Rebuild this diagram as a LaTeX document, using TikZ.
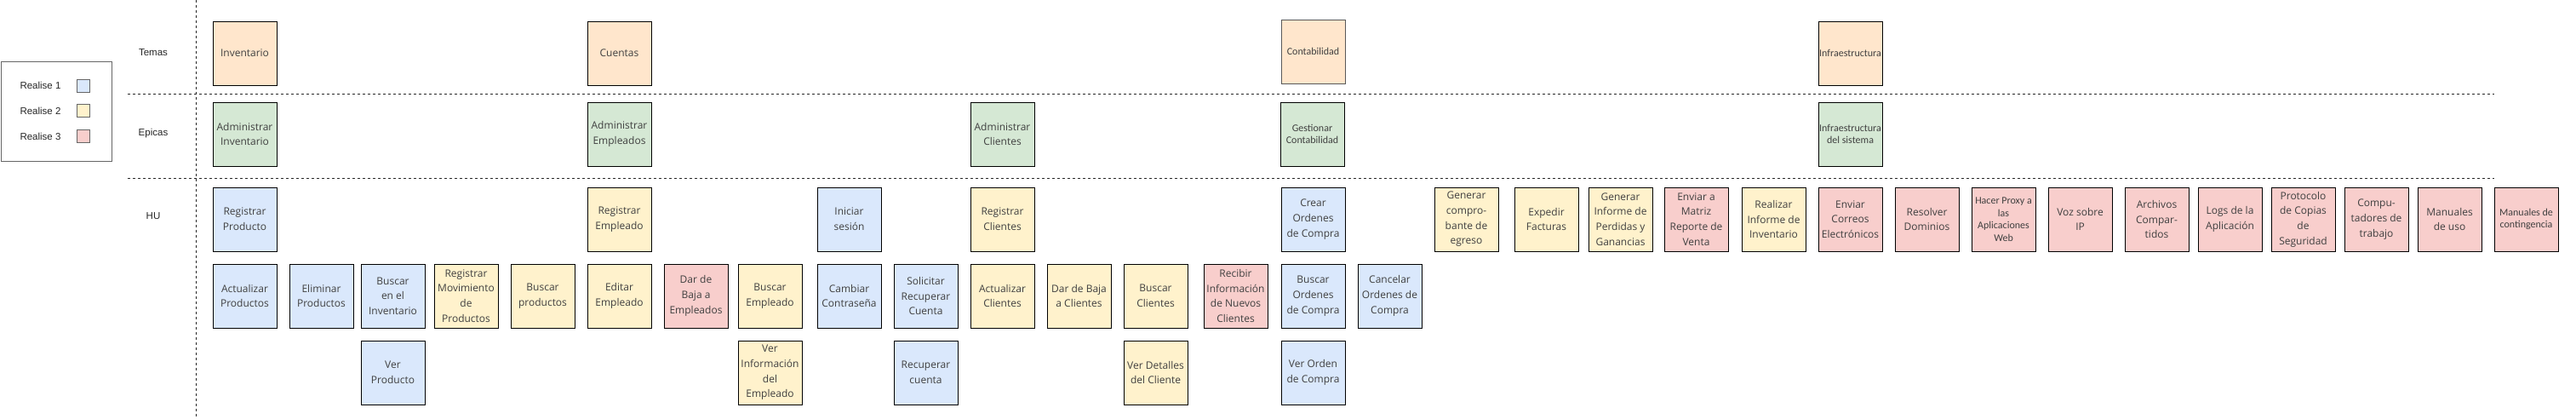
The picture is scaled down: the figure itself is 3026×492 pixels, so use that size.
\documentclass[tikz,border=0pt]{standalone}
\usepackage{fontspec}
\setmainfont{Open Sans}
\newfontfamily\calfont{Carlito}
\newfontfamily\helvfont{Liberation Sans}
\usepackage{xcolor}
\usepackage{tikz}
\usetikzlibrary{positioning}
\definecolor{cBlue}{HTML}{DAE8FC}
\definecolor{cYellow}{HTML}{FFF2CC}
\definecolor{cRed}{HTML}{F8CECC}
\definecolor{cGreen}{HTML}{D5E8D4}
\definecolor{cOrange}{HTML}{FFE6CC}
\definecolor{cText}{HTML}{404040}
\newcommand{\cardsize}{\fontsize{12}{17.7}\selectfont}
\newcommand{\smallsize}{\calfont\fontsize{12}{14.5}\selectfont}
\tikzset{
  card/.style={draw=black, line width=0.9pt, minimum width=75pt, minimum height=75pt,
    inner sep=0pt, align=center, text=cText, font=\cardsize},
  smallcard/.style={card, font=\smallsize},
  lane/.style={draw=black!85, line width=0.9pt, dash pattern=on 3pt off 3pt},
  rowlabel/.style={font=\helvfont\fontsize{11.5}{14}\selectfont, text=black!85},
  swatch/.style={draw=black!60, line width=0.9pt, minimum size=15pt, inner sep=0pt}
}

\begin{document}
\begin{tikzpicture}[x=1pt,y=-1pt]
  \useasboundingbox (0,0) rectangle (3026,492);
  % lanes
  \draw[lane] (230,0) -- (230,490);
  \draw[lane] (150,110) -- (2930,110);
  \draw[lane] (150,209) -- (2930,209);
  \node[rowlabel] (temas) at (180,62) {Temas};
  \node[rowlabel] (epicas) at (180,157) {Epicas};
  \node[rowlabel] (hu) at (180,254) {HU};
  % legend
  \node[draw=black!60, line width=0.9pt, minimum width=130pt, minimum height=117pt,
    inner sep=0pt, anchor=north west] (legend) at (0.5,72) {};
  \foreach \y/\c [count=\i] in {100.5/cBlue,130/cYellow,160/cRed} {
    \node[rowlabel, anchor=west] (rl\i) at (20,\y) {Realise \i};
    \node[swatch, fill=\c] (sw\i) at (98,\y) {};
  }
  % temas
  \node[card, fill=cOrange] (inventario) at (287.5,62.5) {Inventario};
  \node[card, fill=cOrange] (cuentas) at (727.5,62.5) {Cuentas};
  \node[smallcard, fill=cOrange, draw=black!65] (contabilidad) at (1542.5,60.5) {Contabilidad};
  \node[smallcard, fill=cOrange] (infra) at (2173.5,62.5) {Infraestructura};
  % epicas
  \node[card, fill=cGreen] (ep-inv) at (287.5,157.5) {Administrar\\Inventario};
  \node[card, fill=cGreen] (ep-emp) at (727.5,157.5) {Administrar\\Empleados};
  \node[card, fill=cGreen] (ep-cli) at (1177.5,157.5) {Administrar\\Clientes};
  \node[smallcard, fill=cGreen] (ep-cont) at (1541.5,157.5) {Gestionar\\Contabilidad};
  \node[smallcard, fill=cGreen] (ep-infra) at (2173.5,157.5) {Infraestructura\\del sistema};
  % historias de usuario
  \foreach \x/\c/\t [count=\i] in {
     250/cBlue/{Registrar\\Producto},
     690/cYellow/{Registrar\\Empleado},
     960/cBlue/{Iniciar\\sesión},
     1140/cYellow/{Registrar\\Clientes},
     1505/cBlue/{Crear\\Ordenes\\de Compra},
     1685/cYellow/{Generar\\compro-\\bante de\\egreso},
     1779/cYellow/{Expedir\\Facturas},
     1866/cYellow/{Generar\\Informe de\\Perdidas y\\Ganancias},
     1955/cRed/{Enviar a\\Matriz\\Reporte de\\Venta},
     2046/cYellow/{Realizar\\Informe de\\Inventario},
     2136/cRed/{Enviar\\Correos\\Electrónicos},
     2226/cRed/{Resolver\\Dominios},
     2406/cRed/{Voz sobre\\IP},
     2496/cRed/{Archivos\\Compar-\\tidos},
     2582/cRed/{Logs de la\\Aplicación},
     2668/cRed/{Protocolo\\de Copias\\de\\Seguridad},
     2754/cRed/{Compu-\\tadores de\\trabajo},
     2840/cRed/{Manuales\\de uso}}
    \node[card, fill=\c] (hua\i) at (\x+37.5,257.5) {\t};
  \node[smallcard, fill=cRed] (proxy) at (2353.5,257.5) {Hacer Proxy a\\las\\Aplicaciones\\Web};
  \node[smallcard, fill=cRed] (contingencia) at (2967.5,257.5) {Manuales de\\contingencia};
  \foreach \x/\c/\t [count=\i] in {
     250/cBlue/{Actualizar\\Productos},
     340/cBlue/{Eliminar\\Productos},
     424/cBlue/{Buscar\\en el\\Inventario},
     510/cYellow/{Registrar\\Movimiento\\de\\Productos},
     600/cYellow/{Buscar\\productos},
     690/cYellow/{Editar\\Empleado},
     780/cRed/{Dar de\\Baja a\\Empleados},
     867/cYellow/{Buscar\\Empleado},
     960/cBlue/{Cambiar\\Contraseña},
     1050/cBlue/{Solicitar\\Recuperar\\Cuenta},
     1140/cYellow/{Actualizar\\Clientes},
     1230/cYellow/{Dar de Baja\\a Clientes},
     1320/cYellow/{Buscar\\Clientes},
     1414/cRed/{Recibir\\Información\\de Nuevos\\Clientes},
     1505/cBlue/{Buscar\\Ordenes\\de Compra},
     1595/cBlue/{Cancelar\\Ordenes de\\Compra}}
    \node[card, fill=\c] (hub\i) at (\x+37.5,347.5) {\t};
  \foreach \x/\c/\t [count=\i] in {
     424/cBlue/{Ver\\Producto},
     867/cYellow/{Ver\\Información\\del\\Empleado},
     1050/cBlue/{Recuperar\\cuenta},
     1320/cYellow/{Ver Detalles\\del Cliente},
     1505/cBlue/{Ver Orden\\de Compra}}
    \node[card, fill=\c] (huc\i) at (\x+37.5,437.5) {\t};
\end{tikzpicture}
\end{document}
